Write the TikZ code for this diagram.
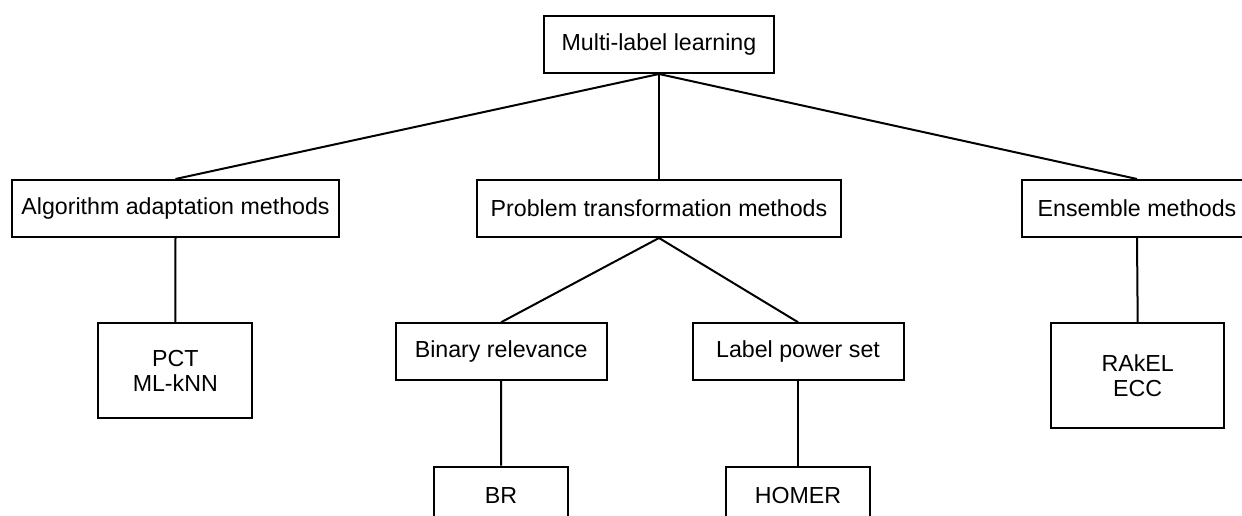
\documentclass[tikz,border=0pt]{standalone}
\usepackage{fontspec}
\setmainfont{Liberation Sans}
\begin{document}
\begin{tikzpicture}[x=0.75pt,y=-0.75pt,
  box/.style={draw,line width=1.5pt,rectangle,inner sep=0pt,align=center,
    font=\fontsize{17.4}{19}\selectfont},
  link/.style={line width=1.5pt},
  bw/.style={minimum width=#1*0.75pt},
  bh/.style={minimum height=#1*0.75pt}]
\useasboundingbox (0,0) rectangle (1242,516);
\clip (0,0) rectangle (1242,516);
% root
\node[box,bw=230,bh=57] (root) at (659,44.5) {Multi-label learning};
% method families
\node[box,bw=327,bh=57] (alg) at (175.5,208.5) {Algorithm adaptation methods};
\node[box,bw=364,bh=57] (prob) at (659,208.5) {Problem transformation methods};
\node[box,bw=230,bh=57] (ens) at (1137,208.5) {Ensemble methods};
% members
\node[box,bw=154,bh=95] (pct) at (175.3,370.8) {PCT\\ML-kNN};
\node[box,bw=211,bh=57] (br) at (501.2,351.7) {Binary relevance};
\node[box,bw=211,bh=57] (lps) at (798,351.7) {Label power set};
\node[box,bw=173,bh=105] (rakel) at (1137.7,375.8) {RAkEL\\ECC};
\node[box,bw=134,bh=57] (brm) at (501,495.2) {BR};
\node[box,bw=144,bh=57] (homer) at (798,495.2) {HOMER};
% tree edges
\draw[link] (root.south) -- (alg.north);
\draw[link] (root.south) -- (prob.north);
\draw[link] (root.south) -- (ens.north);
\draw[link] (alg.south) -- (pct.north);
\draw[link] (prob.south) -- (br.north);
\draw[link] (prob.south) -- (lps.north);
\draw[link] (ens.south) -- (rakel.north);
\draw[link] (br.south) -- (brm.north);
\draw[link] (lps.south) -- (homer.north);
\end{tikzpicture}
\end{document}
